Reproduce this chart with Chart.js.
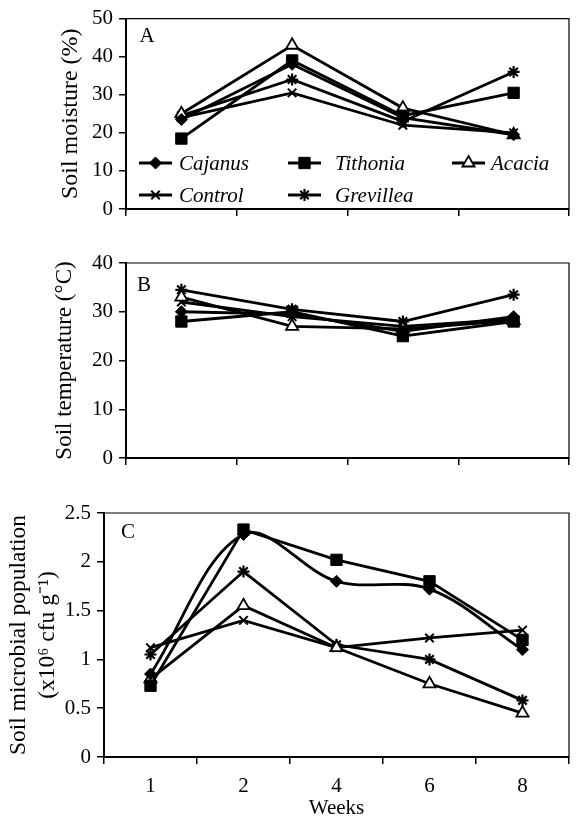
<!DOCTYPE html>
<html>
<head>
<meta charset="utf-8">
<script src="https://cdn.jsdelivr.net/npm/chart.js@4.4.0/dist/chart.umd.min.js"></script>
<style>
  body { margin: 0; background: #fff; width: 578px; height: 827px; position: relative; overflow: hidden; }
  canvas { position: absolute; left: 0; }
</style>
</head>
<body>
<canvas id="chartA" width="578" height="240" style="top:0;width:578px;height:240px"></canvas>
<canvas id="chartB" width="578" height="240" style="top:240px;width:578px;height:240px"></canvas>
<canvas id="chartC" width="578" height="347" style="top:480px;width:578px;height:347px"></canvas>
<script>
// sampling weeks
var weeksAB = ['2', '4', '6', '8'];
var weeksC = ['1', '2', '4', '6', '8'];
var seriesNames = ['Cajanus', 'Tithonia', 'Acacia', 'Control', 'Grevillea'];

// A - soil moisture (%)
var moistCajanus   = [23.5, 38, 24, 19.5];
var moistTithonia  = [18.5, 39, 24.5, 30.5];
var moistAcacia    = [25, 43, 26.5, 19.5];
var moistControl   = [24, 30.5, 22, 20];
var moistGrevillea = [24.5, 34, 23, 36];

// B - soil temperature (C)
var tempCajanus   = [30, 29.5, 26, 29];
var tempTithonia  = [28, 30, 25, 28];
var tempAcacia    = [33, 27, 26.5, 28.2];
var tempControl   = [32, 29, 27, 28.5];
var tempGrevillea = [34.5, 30.5, 28, 33.5];

// C - microbial population (x10^6 cfu/g)
var microCajanus   = [0.85, 2.28, 1.8, 1.72, 1.1];
var microTithonia  = [0.73, 2.33, 2.02, 1.8, 1.2];
var microAcacia    = [0.8, 1.55, 1.12, 0.75, 0.45];
var microControl   = [1.12, 1.4, 1.12, 1.22, 1.3];
var microGrevillea = [1.05, 1.9, 1.15, 1.0, 0.58];

var yTicksA = [0, 10, 20, 30, 40, 50];
var yTicksB = [0, 10, 20, 30, 40];
var yTicksC = [0, 0.5, 1, 1.5, 2, 2.5];

var serif = "'Liberation Serif', 'Times New Roman', serif";

var markers = {
  Cajanus:   { style: 'rectRot',  radius: 6, fill: '#000', bw: 1 },
  Tithonia:  { style: 'rect',     radius: 8, fill: '#000', bw: 1 },
  Acacia:    { style: 'triangle', radius: 7, fill: '#fff', bw: 1.8 },
  Control:   { style: 'crossRot', radius: 6, fill: '#000', bw: 2 },
  Grevillea: { style: 'star',     radius: 6, fill: '#000', bw: 2.2 }
};

function makeDataset(name, values, tension) {
  var m = markers[name];
  return {
    label: name,
    data: values,
    borderColor: '#000',
    borderWidth: 2.8,
    tension: tension || 0,
    fill: false,
    pointStyle: m.style,
    pointRadius: m.radius,
    pointBackgroundColor: m.fill,
    pointBorderColor: '#000',
    pointBorderWidth: m.bw
  };
}

// frame + panel letter + (optional) legend inside chart area
var panelPlugin = {
  id: 'panel',
  afterDraw: function(chart, args, opts) {
    var ctx = chart.ctx, a = chart.chartArea;
    ctx.save();
    ctx.strokeStyle = '#000';
    ctx.lineWidth = 1.2;
    ctx.beginPath();
    ctx.moveTo(a.left, a.top);
    ctx.lineTo(a.right, a.top);
    ctx.lineTo(a.right, a.bottom);
    ctx.stroke();
    ctx.fillStyle = '#000';
    ctx.font = '21px ' + serif;
    ctx.textAlign = 'center';
    ctx.textBaseline = 'middle';
    ctx.fillText(opts.letter, a.left + opts.dx, a.top + opts.dy);

    if (opts.legend) {
      var items = [
        { ds: 0, x: 139, tx: 179, y: 163 },
        { ds: 1, x: 288, tx: 335, y: 163 },
        { ds: 2, x: 452, tx: 491, y: 163 },
        { ds: 3, x: 139, tx: 179, y: 195 },
        { ds: 4, x: 288, tx: 335, y: 195 }
      ];
      ctx.font = 'italic 21px ' + serif;
      ctx.textAlign = 'left';
      items.forEach(function(it) {
        var ds = chart.data.datasets[it.ds];
        ctx.strokeStyle = '#000';
        ctx.lineWidth = 2.8;
        ctx.beginPath();
        ctx.moveTo(it.x, it.y);
        ctx.lineTo(it.x + 33, it.y);
        ctx.stroke();
        ctx.fillStyle = ds.pointBackgroundColor;
        ctx.lineWidth = ds.pointBorderWidth;
        Chart.helpers.drawPoint(ctx, {
          pointStyle: ds.pointStyle, radius: ds.pointRadius,
          borderWidth: ds.pointBorderWidth, rotation: 0
        }, it.x + 16.5, it.y);
        ctx.fillStyle = '#000';
        ctx.fillText(ds.label, it.tx, it.y + 1);
      });
    }
    ctx.restore();
  }
};

function yScale(ticks, title, width, titleFont, lineHeight) {
  return {
    min: ticks[0],
    max: ticks[ticks.length - 1],
    afterBuildTicks: function(s) { s.ticks = ticks.map(function(v) { return { value: v }; }); },
    ticks: { color: '#000', font: { family: serif, size: 21 }, padding: 6,
             callback: function(v) { return String(v); } },
    grid: { drawOnChartArea: false, drawTicks: true, tickLength: 7, color: '#000', lineWidth: 1.5 },
    border: { display: true, color: '#000', width: 2 },
    title: { display: true, text: title, color: '#000',
             font: { family: serif, size: titleFont, lineHeight: lineHeight }, padding: 0 },
    afterFit: function(s) { s.width = width; }
  };
}

function xScale(showLabels, height) {
  return {
    offset: true,
    grid: { offset: true, drawOnChartArea: false, drawTicks: true, tickLength: 7, color: '#000', lineWidth: 1.5 },
    border: { display: true, color: '#000', width: 2 },
    ticks: { display: showLabels, color: '#000', font: { family: serif, size: 21 }, padding: 10, maxRotation: 0 },
    title: { display: showLabels, text: 'Weeks', color: '#000', font: { family: serif, size: 21 }, padding: 0 },
    afterFit: function(s) { s.height = height; }
  };
}

function makeChart(id, labels, datasets, yOpts, xOpts, padding, panel) {
  return new Chart(document.getElementById(id).getContext('2d'), {
    type: 'line',
    data: { labels: labels, datasets: datasets },
    options: {
      responsive: false,
      animation: false,
      layout: { padding: padding },
      plugins: { legend: { display: false }, tooltip: { enabled: false }, panel: panel },
      scales: { x: xOpts, y: yOpts }
    },
    plugins: [panelPlugin]
  });
}

makeChart('chartA', weeksAB, [
    makeDataset('Cajanus', moistCajanus),
    makeDataset('Tithonia', moistTithonia),
    makeDataset('Acacia', moistAcacia),
    makeDataset('Control', moistControl),
    makeDataset('Grevillea', moistGrevillea)
  ],
  yScale(yTicksA, 'Soil moisture (%)', 70, 24, 1.2),
  xScale(false, 10),
  { left: 56, right: 9, top: 15, bottom: 21 },
  { letter: 'A', dx: 21, dy: 18, legend: true });

makeChart('chartB', weeksAB, [
    makeDataset('Cajanus', tempCajanus),
    makeDataset('Tithonia', tempTithonia),
    makeDataset('Acacia', tempAcacia),
    makeDataset('Control', tempControl),
    makeDataset('Grevillea', tempGrevillea)
  ],
  yScale(yTicksB, 'Soil temperature (\u00B0C)', 75, 23, 1.2),
  xScale(false, 10),
  { left: 51, right: 9, top: 23, bottom: 12 },
  { letter: 'B', dx: 18, dy: 22 });

makeChart('chartC', weeksC, [
    makeDataset('Cajanus', microCajanus, 0.35),
    makeDataset('Tithonia', microTithonia),
    makeDataset('Acacia', microAcacia),
    makeDataset('Control', microControl),
    makeDataset('Grevillea', microGrevillea)
  ],
  yScale(yTicksC, ['Soil microbial population', '(x10\u2076 cfu g\u207B\u00B9)'], 100, 23.5, 1.25),
  xScale(true, 64),
  { left: 4, right: 2, top: 33, bottom: 6 },
  { letter: 'C', dx: 24, dy: 19 });
</script>
</body>
</html>
